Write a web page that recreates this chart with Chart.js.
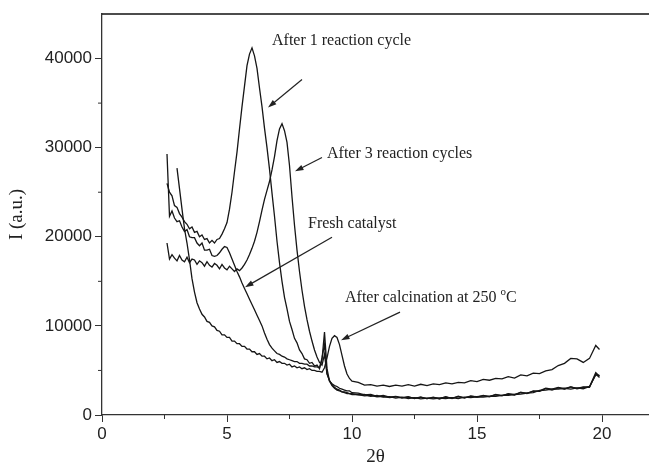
<!DOCTYPE html>
<html>
<head>
<meta charset="utf-8">
<script src="https://cdn.jsdelivr.net/npm/chart.js@4.4.1/dist/chart.umd.min.js"></script>
<style>
  html, body { margin: 0; padding: 0; background: #fff; }
  #wrap { width: 649px; height: 470px; }
</style>
</head>
<body>
<div id="wrap"><canvas id="xrdChart" width="649" height="470"></canvas></div>
<script>
// 2theta sampling points (finer where the peaks are)
const twoTheta = [
  2.6, 2.7, 2.8, 2.9, 3.0, 3.1, 3.2, 3.3, 3.4, 3.5,
  3.6, 3.7, 3.8, 3.9, 4.0, 4.1, 4.2, 4.3, 4.4, 4.5,
  4.6, 4.7, 4.8, 4.9, 5.0, 5.1, 5.2, 5.3, 5.4, 5.5,
  5.6, 5.7, 5.8, 5.9, 6.0, 6.1, 6.2, 6.3, 6.4, 6.5,
  6.6, 6.7, 6.8, 6.9, 7.0, 7.1, 7.2, 7.3, 7.4, 7.5,
  7.6, 7.7, 7.8, 7.9, 8.0, 8.1, 8.2, 8.3, 8.4, 8.5,
  8.6, 8.7, 8.8, 8.9, 9.0, 9.1, 9.2, 9.3, 9.4, 9.5,
  9.6, 9.7, 9.8, 9.9, 10.0,
  10.25, 10.5, 10.75, 11, 11.25, 11.5, 11.75, 12, 12.25, 12.5,
  12.75, 13, 13.25, 13.5, 13.75, 14, 14.25, 14.5, 14.75, 15,
  15.25, 15.5, 15.75, 16, 16.25, 16.5, 16.75, 17, 17.25, 17.5,
  17.75, 18, 18.25, 18.5, 18.75, 19, 19.25, 19.5, 19.75, 19.9
];

const afterOneCycle = [
  26000, 25000, 24600, 23500, 23300, 22600, 22200, 21700, 21400, 20900,
  21100, 20500, 20600, 20000, 20200, 19700, 19800, 19300, 19600, 19300,
  19700, 19800, 20300, 20900, 21600, 23100, 25000, 27300, 29500, 32100,
  34600, 36900, 39200, 40500, 41200, 40300, 38900, 36700, 34600, 32200,
  30000, 27600, 24900, 22300, 19500, 17100, 15000, 13200, 11900, 10500,
  9600, 8600, 8100, 7300, 6900, 6300, 6200, 5800, 5900, 5500,
  5600, 5200, 6400, 7900, 4700, 3800, 3500, 3300, 3200, 3000,
  2900, 2800, 2700, 2700, 2500,
  2450, 2250, 2300, 2100, 2200, 2000, 2100, 1950, 2050, 1850,
  2000, 1850, 2000, 1800, 2050, 1850, 2100, 1900, 2150, 2000,
  2200, 2050, 2300, 2150, 2400, 2250, 2550, 2400, 2700, 2650,
  2950, 2800, 3050, 2900, 3150, 2950, 3100, 3100, 4600, 4200
];

const afterThreeCycles = [
  19300, 17500, 18000, 17600, 17300, 17900, 17400, 17200, 17700, 17100,
  17500, 17400, 16900, 17300, 17100, 16700, 17200, 16800, 16600, 17000,
  16800, 16400, 16900, 16500, 16300, 16700, 16400, 16100, 16400, 16200,
  16500, 16900, 17400, 18000, 18700, 19500, 20500, 21700, 23000, 24200,
  25200, 26200, 27500, 29000, 30800, 32100, 32700, 31900, 30600, 28000,
  24500, 21300, 18500, 16100, 14000, 12200, 10700, 9400, 8300, 7300,
  6500, 5900, 5600, 6800, 4600, 3900, 3400, 3100, 2900, 2800,
  2600, 2600, 2500, 2400, 2400,
  2250, 2300, 2100, 2200, 2000, 2050, 1900, 2000, 1850, 1950,
  1800, 1900, 1800, 1900, 1850, 1950, 1850, 2000, 1950, 2050,
  2000, 2100, 2100, 2200, 2200, 2300, 2350, 2450, 2500, 2750,
  2800, 2900, 2900, 3000, 2900, 3050, 2950, 3200, 4500, 4450
];

const freshCatalyst = [
  29300, 22300, 22900, 22100, 21700, 21800, 21100, 20600, 20800, 20000,
  19900, 19900, 19300, 19000, 19300, 18500, 18500, 18600, 17900, 17800,
  17900, 18200, 18600, 18900, 18800, 18200, 17500, 16800, 16100, 15500,
  14800, 14200, 13600, 13000, 12400, 11800, 11200, 10600, 10000, 9200,
  8500, 7900, 7500, 7200, 6900, 6800, 6600, 6500, 6300, 6200,
  6100, 6000, 6000, 5800, 5800, 5700, 5700, 5500, 5500, 5400,
  5400, 5300, 6200, 9300, 5200, 3800, 3300, 3000, 2800, 2700,
  2600, 2500, 2400, 2400, 2300,
  2300, 2150, 2200, 2050, 2100, 1950, 2050, 1900, 2000, 1900,
  2000, 1850, 1950, 1900, 2000, 1900, 2050, 1950, 2100, 2050,
  2150, 2100, 2250, 2200, 2350, 2300, 2500, 2450, 2650, 2700,
  3000, 2900, 3100, 2950, 3150, 3000, 3150, 3150, 4750, 4350
];

const afterCalcination = [
  null, null, null, null, 27700, 25400, 23100, 20900, 19300, 17400,
  15300, 13800, 12600, 11900, 11300, 11000, 10500, 10400, 10000, 9900,
  9500, 9400, 9000, 9000, 8700, 8700, 8300, 8300, 8000, 8000,
  7700, 7700, 7400, 7400, 7100, 7100, 6800, 6900, 6600, 6600,
  6300, 6400, 6100, 6200, 5900, 6000, 5800, 5800, 5600, 5700,
  5400, 5500, 5300, 5400, 5200, 5300, 5100, 5200, 5000, 5000,
  4900, 4900, 4800, 5300, 6400, 7700, 8600, 8900, 8700, 7900,
  6700, 5500, 4600, 4100, 3800,
  3650, 3350, 3400, 3250, 3350, 3200, 3350, 3250, 3400, 3250,
  3450, 3300, 3500, 3400, 3600, 3500, 3650, 3600, 3850, 3750,
  4000, 3900, 4100, 4050, 4300, 4150, 4500, 4400, 4700, 4650,
  4950, 5100, 5550, 5800, 6350, 6300, 5900, 6350, 7800, 7350
];

const xTickValues = [0, 5, 10, 15, 20];
const xMinorTicks = [2.5, 7.5, 12.5, 17.5];
const yTickValues = [0, 10000, 20000, 30000, 40000];
const yMinorTicks = [5000, 15000, 25000, 35000];

// text labels with arrows, anchored in data units
const labels = [
  { text: 'After 1 reaction cycle', x: 6.8, y: 42000, from: [8.0, 37650], to: [6.64, 34500] },
  { text: 'After 3 reaction cycles', x: 9.0, y: 29350, from: [8.8, 28900], to: [7.72, 27340] },
  { text: 'Fresh catalyst', x: 8.24, y: 21500, from: [9.2, 19950], to: [5.72, 14340] },
  { text: 'After calcination at 250 ', sup: 'o', tail: 'C', x: 9.72, y: 13100, from: [11.92, 11540], to: [9.56, 8400] }
];

const lineColor = '#161616';
const axisColor = '#333';

function toPoints(ys) {
  return ys.map((y, i) => ({ x: twoTheta[i], y: y }));
}

function makeSet(name, ys) {
  return {
    label: name,
    data: toPoints(ys),
    borderColor: lineColor,
    borderWidth: 1.3,
    pointRadius: 0,
    tension: 0,
    fill: false,
    spanGaps: false
  };
}

// frame line on top + short minor ticks
const framePlugin = {
  id: 'frame',
  afterDraw(chart) {
    const { ctx, chartArea, scales } = chart;
    ctx.save();
    ctx.strokeStyle = '#111';
    ctx.lineWidth = 1.6;
    ctx.beginPath();
    ctx.moveTo(chartArea.left, chartArea.top);
    ctx.lineTo(chartArea.right, chartArea.top);
    ctx.stroke();

    ctx.strokeStyle = axisColor;
    ctx.lineWidth = 1;
    ctx.beginPath();
    xMinorTicks.forEach(v => {
      const px = scales.x.getPixelForValue(v);
      ctx.moveTo(px, chartArea.bottom);
      ctx.lineTo(px, chartArea.bottom + 4);
    });
    yMinorTicks.forEach(v => {
      const py = scales.y.getPixelForValue(v);
      ctx.moveTo(chartArea.left, py);
      ctx.lineTo(chartArea.left - 4, py);
    });
    ctx.stroke();
    ctx.restore();
  }
};

const labelPlugin = {
  id: 'arrowLabels',
  afterDatasetsDraw(chart) {
    const { ctx, scales } = chart;
    ctx.save();
    ctx.fillStyle = '#222';
    ctx.strokeStyle = '#222';
    ctx.lineWidth = 1.2;
    ctx.textBaseline = 'middle';
    labels.forEach(l => {
      const tx = scales.x.getPixelForValue(l.x);
      const ty = scales.y.getPixelForValue(l.y);
      ctx.font = '16px "Liberation Serif"';
      ctx.fillText(l.text, tx, ty);
      if (l.sup) {
        let w = ctx.measureText(l.text).width;
        ctx.font = '11px "Liberation Serif"';
        ctx.fillText(l.sup, tx + w, ty - 6);
        w += ctx.measureText(l.sup).width;
        ctx.font = '16px "Liberation Serif"';
        ctx.fillText(l.tail, tx + w, ty);
      }
      const x1 = scales.x.getPixelForValue(l.from[0]);
      const y1 = scales.y.getPixelForValue(l.from[1]);
      const x2 = scales.x.getPixelForValue(l.to[0]);
      const y2 = scales.y.getPixelForValue(l.to[1]);
      const ang = Math.atan2(y2 - y1, x2 - x1);
      const head = 9;
      ctx.beginPath();
      ctx.moveTo(x1, y1);
      ctx.lineTo(x2 - Math.cos(ang) * head * 0.8, y2 - Math.sin(ang) * head * 0.8);
      ctx.stroke();
      ctx.beginPath();
      ctx.moveTo(x2, y2);
      ctx.lineTo(x2 - head * Math.cos(ang - 0.32), y2 - head * Math.sin(ang - 0.32));
      ctx.lineTo(x2 - head * Math.cos(ang + 0.32), y2 - head * Math.sin(ang + 0.32));
      ctx.closePath();
      ctx.fill();
    });
    ctx.restore();
  }
};

function createChart() {
  const ctx = document.getElementById('xrdChart').getContext('2d');

  new Chart(ctx, {
    type: 'line',
    data: {
      datasets: [
        makeSet('After 1 reaction cycle', afterOneCycle),
        makeSet('After 3 reaction cycles', afterThreeCycles),
        makeSet('Fresh catalyst', freshCatalyst),
        makeSet('After calcination at 250 °C', afterCalcination)
      ]
    },
    options: {
      responsive: false,
      animation: false,
      devicePixelRatio: 1,
      layout: { padding: { top: 14, right: 0, left: 0, bottom: 0 } },
      plugins: {
        legend: { display: false },
        tooltip: { enabled: false }
      },
      scales: {
        x: {
          type: 'linear',
          min: 0,
          max: 21.88,
          afterBuildTicks: scale => {
            scale.ticks = xTickValues.map(v => ({ value: v }));
          },
          afterFit: scale => { scale.height = 55; },
          grid: {
            drawOnChartArea: false,
            tickLength: 7,
            color: axisColor,
            lineWidth: 1
          },
          border: { color: axisColor, width: 1.3 },
          ticks: {
            autoSkip: false,
            maxRotation: 0,
            padding: 2,
            color: '#222',
            font: { family: '"Liberation Sans"', size: 17 },
            callback: value => String(value)
          },
          title: {
            display: true,
            text: '2θ',
            color: '#222',
            padding: { top: 0, bottom: 2 },
            font: { family: '"Liberation Serif"', size: 19 }
          }
        },
        y: {
          min: 0,
          max: 45000,
          afterBuildTicks: scale => {
            scale.ticks = yTickValues.map(v => ({ value: v }));
          },
          afterFit: scale => { scale.width = 102; },
          grid: {
            drawOnChartArea: false,
            tickLength: 7,
            color: axisColor,
            lineWidth: 1
          },
          border: { color: axisColor, width: 1.3 },
          ticks: {
            padding: 3,
            color: '#222',
            font: { family: '"Liberation Sans"', size: 17 },
            callback: value => String(value)
          },
          title: {
            display: true,
            text: 'I (a.u.)',
            color: '#222',
            padding: { top: 6, bottom: 0 },
            font: { family: '"Liberation Serif"', size: 19 }
          }
        }
      }
    },
    plugins: [framePlugin, labelPlugin]
  });
}

createChart();
</script>
</body>
</html>
